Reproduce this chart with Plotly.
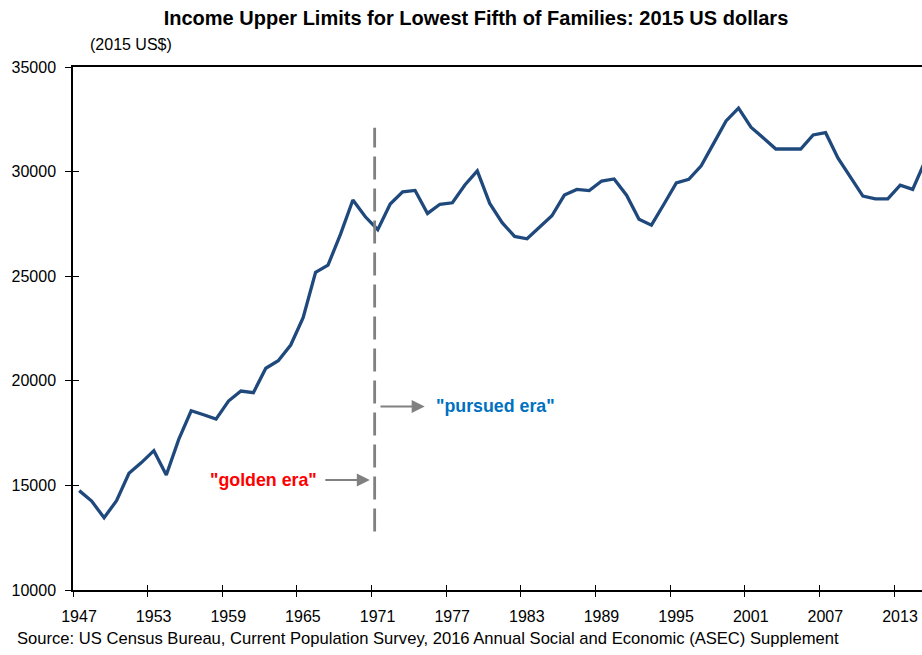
import plotly.graph_objects as go

years = list(range(1947, 2016))
income = [
    14750, 14250, 13450, 14270, 15580, 16090, 16660, 15500, 17200, 18570,
    18380, 18170, 19030, 19510, 19430, 20600, 20960, 21710, 23020, 25190,
    25530, 27000, 28640, 27840, 27220, 28450, 29030, 29100, 28000, 28440,
    28510, 29360, 30030, 28480, 27560, 26900, 26790, 27350, 27890, 28880,
    29150, 29090, 29550, 29650, 28870, 27720, 27440, 28440, 29460, 29630,
    30280, 31350, 32420, 33030, 32120, 31610, 31080, 31080, 31080, 31750,
    31860, 30640, 29730, 28830, 28700, 28700, 29350, 29150, 30500,
]
tick_labels = ["1947", "1953", "1959", "1965", "1971", "1977", "1983",
               "1989", "1995", "2001", "2007", "2013"]
tick_pos = [int(t) - 0.5 for t in tick_labels]
y_ticks = [10000, 15000, 20000, 25000, 30000, 35000]
divider_year = 1970.75
divider_span = [12800, 32100]

FONT = "Liberation Sans, Arial, sans-serif"
BLUE = "#1F497D"
GRAY = "#808080"

fig = go.Figure()
fig.add_trace(go.Scatter(
    x=years, y=income, mode="lines",
    line=dict(color=BLUE, width=3.3), hoverinfo="x+y", showlegend=False,
))
fig.add_trace(go.Scatter(
    x=[divider_year, divider_year], y=divider_span, mode="lines",
    line=dict(color=GRAY, width=2.8, dash="23px,9px"), hoverinfo="skip",
    showlegend=False,
))
# invisible trace for crossing tick marks
fig.add_trace(go.Scatter(
    x=[years[0]], y=[income[0]], xaxis="x2", yaxis="y2", mode="markers",
    marker=dict(opacity=0), hoverinfo="skip", showlegend=False,
))

x_range = [1946.5, 2014.75]
y_range = [10000, 35000]

fig.update_layout(
    width=922, height=655,
    margin=dict(l=73, r=0, t=67, b=65, autoexpand=False),
    paper_bgcolor="white", plot_bgcolor="white",
    font=dict(family=FONT, size=16, color="#000000"),
    title=dict(
        text="<b>Income Upper Limits for Lowest Fifth of Families: 2015 US dollars</b>",
        x=476 / 922, xanchor="center", y=1 - 18 / 655, yanchor="middle",
        font=dict(family=FONT, size=20, color="#000000"),
    ),
    xaxis=dict(
        range=x_range, tickvals=tick_pos, ticktext=tick_labels,
        showgrid=False, zeroline=False, showline=True, linecolor="#000000",
        linewidth=1.5, mirror=True, ticks="outside", ticklen=5, tickwidth=1,
        tickcolor="#000000", ticklabelstandoff=6, ticklabelshift=6,
        automargin=False,
        tickfont=dict(family=FONT, size=16, color="#000000"),
    ),
    yaxis=dict(
        range=y_range, tickvals=y_ticks, tickformat="d", showgrid=False,
        zeroline=False, automargin=False,
        showline=True, linecolor="#000000", linewidth=1.5, ticks="outside",
        ticklen=6, tickwidth=1, tickcolor="#000000", ticklabelstandoff=6,
        tickfont=dict(family=FONT, size=16, color="#000000"),
    ),
    xaxis2=dict(
        range=x_range, tickvals=tick_pos, overlaying="x", showticklabels=False,
        showgrid=False, zeroline=False, showline=False, ticks="inside",
        ticklen=5, tickwidth=1, tickcolor="#000000",
    ),
    yaxis2=dict(
        range=y_range, tickvals=y_ticks, overlaying="y", showticklabels=False,
        showgrid=False, zeroline=False, showline=False, ticks="inside",
        ticklen=6, tickwidth=1, tickcolor="#000000",
    ),
)

fig.add_annotation(
    text="(2015 US$)", xref="paper", yref="paper",
    x=(88 - 73) / 849, y=(590 - 45) / 523, xanchor="left", yanchor="middle",
    showarrow=False, font=dict(family=FONT, size=16, color="#000000"),
)
fig.add_annotation(
    text="Source: US Census Bureau, Current Population Survey, 2016 Annual Social and Economic (ASEC) Supplement",
    xref="paper", yref="paper", x=(15 - 73) / 849, y=(590 - 638) / 523,
    xanchor="left", yanchor="middle", showarrow=False,
    font=dict(family=FONT, size=16.6, color="#000000"),
)
# arrows
fig.add_annotation(
    x=1970.36, y=15260, ax=1966.66, ay=15260, xref="x", yref="y",
    axref="x", ayref="y", text="", showarrow=True, arrowhead=2,
    arrowsize=1.3, arrowwidth=2, arrowcolor=GRAY,
)
fig.add_annotation(
    x=1974.77, y=18770, ax=1971.1, ay=18770, xref="x", yref="y",
    axref="x", ayref="y", text="", showarrow=True, arrowhead=2,
    arrowsize=1.3, arrowwidth=2, arrowcolor=GRAY,
)
fig.add_annotation(
    text='<b>"golden era"</b>', x=1961.78, y=15260, xref="x", yref="y",
    showarrow=False, font=dict(family=FONT, size=17.8, color="#FF0000"),
)
fig.add_annotation(
    text='<b>"pursued era"</b>', x=1980.44, y=18780, xref="x", yref="y",
    showarrow=False, font=dict(family=FONT, size=17.8, color="#0070C0"),
)

fig.write_html(
    "out.html",
    config={"displayModeBar": False},
    post_script="document.body.style.margin='0';document.body.style.overflow='hidden';",
)
